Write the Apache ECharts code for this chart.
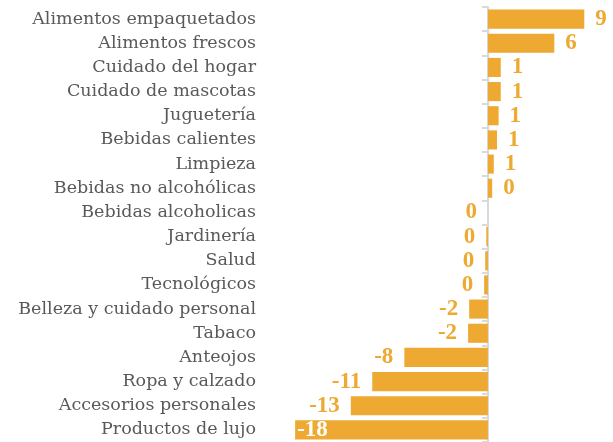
<!DOCTYPE html>
<html>
<head>
<meta charset="utf-8">
<script src="https://cdn.jsdelivr.net/npm/echarts@6/dist/echarts.min.js"></script>
<style>
  html, body { margin: 0; padding: 0; background: #fff; }
  #chart { width: 613px; height: 442px; }
</style>
</head>
<body>
<div id="chart"></div>
<script>
const categories = [
  "Alimentos empaquetados", "Alimentos frescos", "Cuidado del hogar",
  "Cuidado de mascotas", "Juguetería", "Bebidas calientes", "Limpieza",
  "Bebidas no alcohólicas", "Bebidas alcoholicas", "Jardinería", "Salud",
  "Tecnológicos", "Belleza y cuidado personal", "Tabaco", "Anteojos",
  "Ropa y calzado", "Accesorios personales", "Productos de lujo"
];
const values = [9.0, 6.2, 1.2, 1.2, 1.0, 0.85, 0.55, 0.4, 0, -0.15, -0.25, -0.35,
  -1.75, -1.85, -7.8, -10.8, -12.8, -18.0];
const valueLabels = ["9", "6", "1", "1", "1", "1", "1", "0", "0", "0", "0", "0",
  "-2", "-2", "-8", "-11", "-13", "-18"];

const barColor = "#EDA931";
const catFont = "'DejaVu Serif', serif";
const numFont = "'Liberation Serif', serif";

const chart = echarts.init(document.getElementById("chart"));

const seriesData = values.map((v, i) => {
  const item = { value: v, label: { position: v > 0 ? "right" : "left" } };
  // the longest negative bar carries its label inside, in white
  if (i === values.length - 1) {
    item.label = { position: "insideLeft", color: "#fff", distance: 2 };
  }
  return item;
});

const option = {
  animation: false,
  grid: { left: 263, right: 18, top: 7, bottom: -1 },
  xAxis: {
    type: "value",
    min: -21,
    max: 10,
    show: false
  },
  yAxis: [
    {
      type: "category",
      data: categories,
      inverse: true,
      position: "left",
      axisLine: { show: false, onZero: false },
      axisTick: { show: false },
      axisLabel: {
        color: "#595959",
        fontFamily: catFont,
        fontSize: 17.5,
        margin: 7
      }
    },
    {
      type: "category",
      data: categories,
      inverse: true,
      position: "right",
      axisLine: { show: true, onZero: true, lineStyle: { color: "#D9D9D9", width: 2 } },
      axisTick: { show: true, inside: true, length: 6, lineStyle: { color: "#D9D9D9", width: 2 } },
      axisLabel: { show: false }
    }
  ],
  series: [
    {
      type: "bar",
      yAxisIndex: 0,
      data: seriesData,
      barCategoryGap: "21%",
      itemStyle: { color: barColor },
      label: {
        show: true,
        distance: 11,
        color: barColor,
        fontFamily: numFont,
        fontWeight: "bold",
        fontSize: 23,
        formatter: (p) => valueLabels[p.dataIndex]
      }
    }
  ]
};

chart.setOption(option);
</script>
</body>
</html>
